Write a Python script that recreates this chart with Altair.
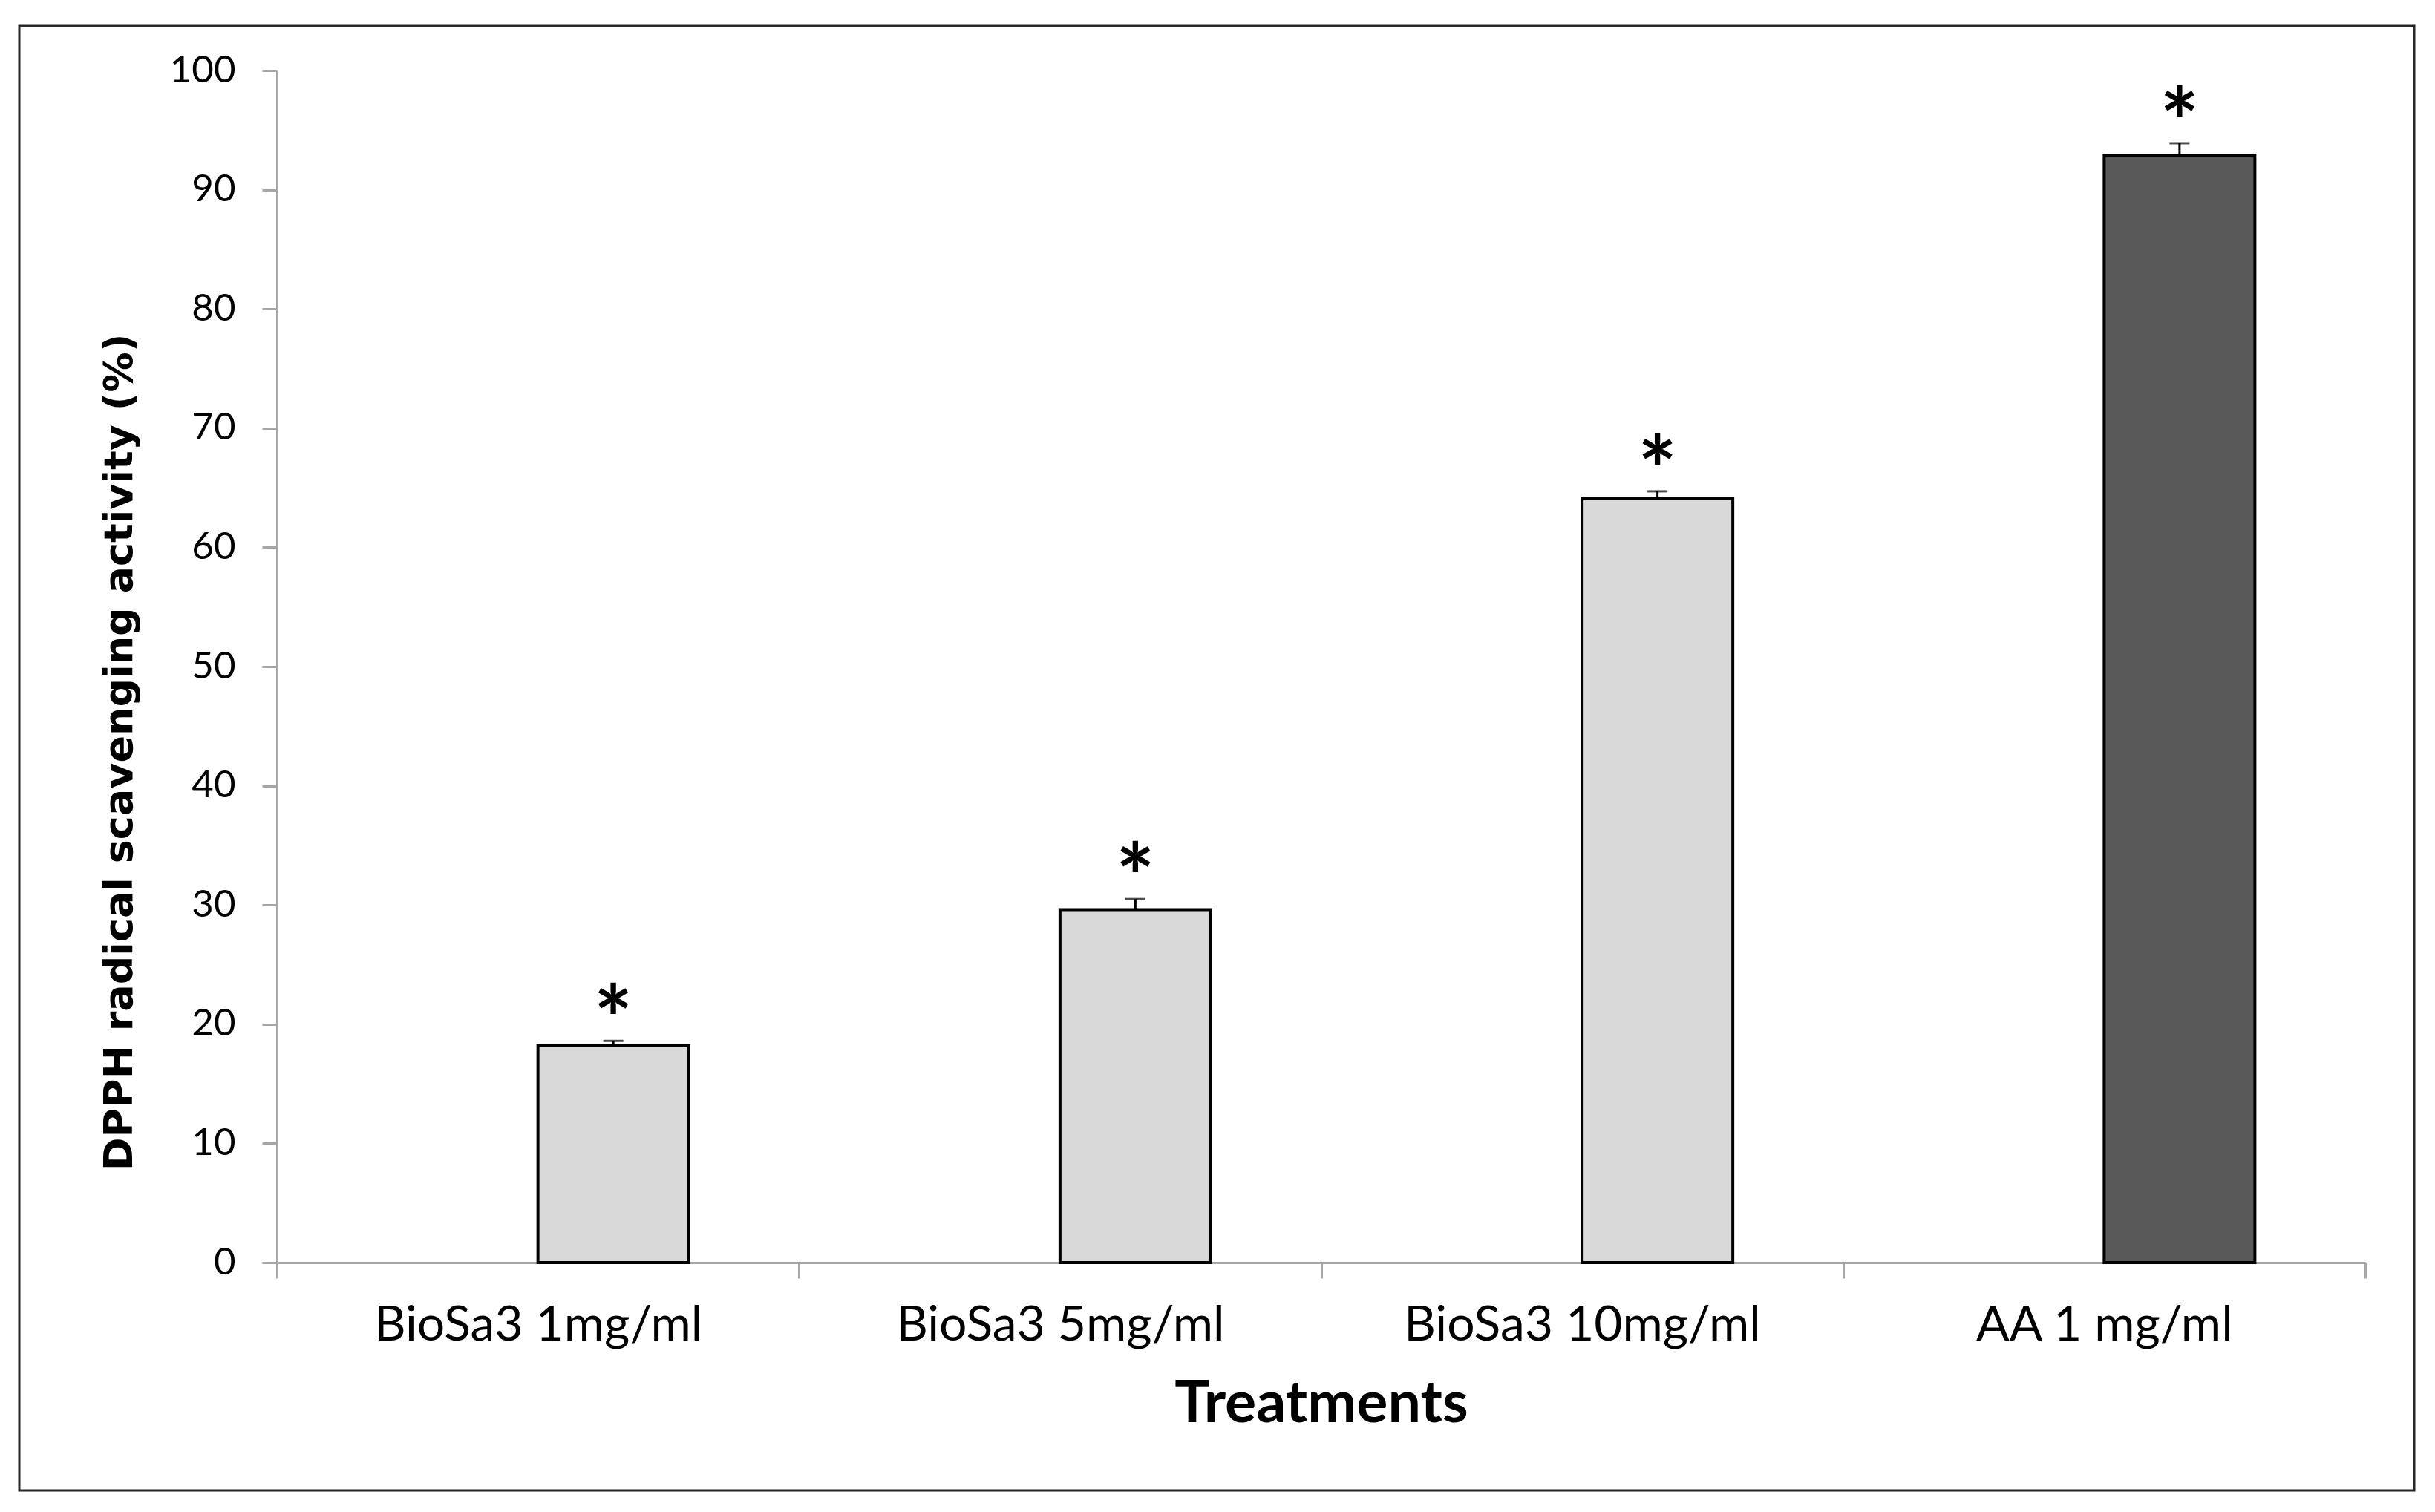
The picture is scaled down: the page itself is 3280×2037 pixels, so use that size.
import altair as alt
import pandas as pd

categories = ["BioSa3 1mg/ml", "BioSa3 5mg/ml", "BioSa3 10mg/ml", "AA 1 mg/ml"]
means = [18.2, 29.6, 64.1, 92.9]
errors = [0.4, 0.9, 0.6, 1.0]
fills = ["#D9D9D9", "#D9D9D9", "#D9D9D9", "#595959"]
stars = ["*", "*", "*", "*"]
y_ticks = [0, 10, 20, 30, 40, 50, 60, 70, 80, 90, 100]

df = pd.DataFrame({
    "cat": categories,
    "mean": means,
    "err": errors,
    "fill": fills,
    "star": stars,
})
df["top"] = df["mean"] + df["err"]

W, H = 2813, 1606
BAR_W = 203
SHIFT = BAR_W / 2  # bars sit just right of the category centre (Excel two-series layout)
AXIS_GRAY = "#A6A6A6"

x_enc = alt.X(
    "cat:N",
    sort=categories,
    scale=alt.Scale(paddingInner=0, paddingOuter=0),
    axis=alt.Axis(
        title="Treatments",
        labelAngle=0,
        labelLimit=0,
        labelFont="Lato",
        labelFontSize=66,
        labelColor="#000000",
        labelBaseline="alphabetic",
        labelPadding=83,
        tickBand="extent",
        tickSize=21,
        tickWidth=3,
        tickColor=AXIS_GRAY,
        domainColor=AXIS_GRAY,
        domainWidth=3,
        titleFont="Lato",
        titleFontSize=79,
        titleFontWeight="bold",
        titleColor="#000000",
        titleBaseline="alphabetic",
        titleAlign="center",
        titleX=W / 2,
        titleY=214,
    ),
)

y_scale = alt.Scale(domain=[0, 100], nice=False)

bars = alt.Chart(df).mark_bar(
    stroke="#000000", strokeWidth=4, width=BAR_W, xOffset=SHIFT
).encode(
    x=x_enc,
    y=alt.Y(
        "mean:Q",
        scale=y_scale,
        axis=alt.Axis(
            values=y_ticks,
            title="DPPH radical scavenging activity (%)",
            grid=False,
            labelFont="Lato",
            labelFontSize=51,
            labelColor="#000000",
            labelPadding=36,
            tickSize=20,
            tickWidth=3,
            tickColor=AXIS_GRAY,
            domainColor=AXIS_GRAY,
            domainWidth=3,
            titleFont="DejaVu Sans",
            titleFontSize=54,
            titleFontWeight="bold",
            titleColor="#000000",
            titleAngle=270,
            titleAlign="center",
            titleBaseline="middle",
            titleX=-212,
            titleY=918,
        ),
    ),
    fill=alt.Fill("fill:N", scale=None),
)

err_rule = alt.Chart(df).mark_rule(color="#000000", strokeWidth=3, xOffset=SHIFT).encode(
    x=alt.X("cat:N", sort=categories),
    y=alt.Y("mean:Q", scale=y_scale),
    y2="top:Q",
)

err_cap = alt.Chart(df).mark_tick(
    color="#000000", size=27, thickness=3, xOffset=SHIFT
).encode(
    x=alt.X("cat:N", sort=categories),
    y=alt.Y("top:Q", scale=y_scale),
)

star_text = alt.Chart(df).mark_text(
    font="Lato", fontSize=124, fontWeight="bold", color="#000000",
    baseline="alphabetic", dy=16, xOffset=SHIFT,
).encode(
    x=alt.X("cat:N", sort=categories),
    y=alt.Y("top:Q", scale=y_scale),
    text="star:N",
)

frame = alt.Chart(alt.Data(values=[{"a": 1}])).mark_rect(
    fillOpacity=0, stroke="#262626", strokeWidth=3
).encode(
    x=alt.value(-347), x2=alt.value(2879),
    y=alt.value(-60), y2=alt.value(1913),
)

chart = alt.layer(frame, bars, err_rule, err_cap, star_text).properties(
    width=W, height=H,
    padding={"left": 16, "top": 25, "right": 5, "bottom": 5},
    background="#FFFFFF",
).configure_view(stroke=None)

chart.save("out.html", embed_options={"renderer": "svg", "actions": False})
